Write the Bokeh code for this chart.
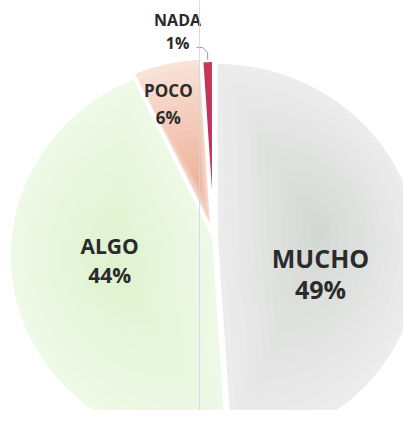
import math
from bokeh.plotting import figure
from bokeh.models import Range1d, Span
from bokeh.embed import file_html
from bokeh.resources import INLINE
from bokeh.core.properties import value

# ---- data ----
categories = ["NADA", "POCO", "ALGO", "MUCHO"]
percents = [1, 6, 44, 49]
pct_labels = ["1%", "6%", "44%", "49%"]

# ---- style ----
edge_colors = ["#c8365a", "#f9e2d7", "#eef9e7", "#ececec"]
center_colors = ["#c3305a", "#efb39c", "#e0f2d0", "#d4d8d4"]
explode = [0.012, 0.03, 0.0, 0.014]         # fraction of radius, along mid-angle
focus = [0.5, 0.25, 0.5, 0.5]               # gradient focus (fraction of radius)
label_r = [1.213, 0.781, 0.520, 0.550]      # label anchor, pie-disc polar coords
label_ang = [99.4, 107.8, 193.5, -19.9]
label_size = [16, 17, 21, 25]
label_gap = [23, 27, 29, 31]
text_color = "#2b2b2b"

# tilted (3-D) pie projection, screen pixels
X0, Y0 = 213, 236
A = 203
TOP = 174
K = 0.10
B = TOP * (1 + K)

W, H = 403, 410
PAGE_H = 426


def proj(u, v):
    w = 1 + K * v
    return X0 + A * u / w, PAGE_H - (Y0 - B * v / w)


def mix(c1, c2, t):
    a = [int(c1[i:i + 2], 16) for i in (1, 3, 5)]
    b = [int(c2[i:i + 2], 16) for i in (1, 3, 5)]
    return "#%02x%02x%02x" % tuple(round(a[j] + (b[j] - a[j]) * t) for j in range(3))


p = figure(width=W, height=H, output_backend="svg", toolbar_location=None,
           x_range=Range1d(0, W), y_range=Range1d(PAGE_H - H, PAGE_H),
           min_border=0, outline_line_color=None, background_fill_color="white")
p.axis.visible = False
p.grid.visible = False

# faint vertical artifact line seen in the source image
p.add_layout(Span(location=199, dimension="height", line_color="#c9dadd", line_width=1, line_alpha=0.8))

total = float(sum(percents))
start = 90.0
outlines = []
labels = []
for i, cat in enumerate(categories):
    span = percents[i] / total * 360.0
    a0, a1 = start, start + span
    mid = math.radians((a0 + a1) / 2)
    du, dv = explode[i] * math.cos(mid), explode[i] * math.sin(mid)
    n = max(4, int(span / 1.5))
    pts = [(du, dv)]
    for j in range(n + 1):
        a = math.radians(a0 + (a1 - a0) * j / n)
        pts.append((du + math.cos(a), dv + math.sin(a)))
    fu, fv = du + focus[i] * math.cos(mid), dv + focus[i] * math.sin(mid)
    steps = 14
    for s_i in range(steps):
        s = 1.0 - s_i / steps
        col = mix(edge_colors[i], center_colors[i], s_i / (steps - 1))
        xs, ys = [], []
        for (u, v) in pts:
            x, y = proj(fu + s * (u - fu), fv + s * (v - fv))
            xs.append(x)
            ys.append(y)
        p.patch(xs, ys, fill_color=col, line_color=None)
    xs, ys = zip(*[proj(u, v) for (u, v) in pts])
    outlines.append((list(xs), list(ys)))

    la = math.radians(label_ang[i])
    lx, ly = proj(label_r[i] * math.cos(la), label_r[i] * math.sin(la))
    lead = None
    if label_r[i] > 1:
        lead = proj(du + 1.0 * math.cos(mid), dv + 1.0 * math.sin(mid))
    labels.append((i, lx, ly, lead))
    start = a1

# white separators
for xs, ys in outlines:
    p.patch(xs, ys, fill_color=None, line_color="white", line_width=3, line_join="miter")

# labels on top
for i, lx, ly, lead in labels:
    g = label_gap[i] / 2.0
    for txt, yy in ((categories[i], ly + g), (pct_labels[i], ly - g)):
        p.text(x=[lx], y=[yy], text=[txt], text_font=value("Open Sans"), text_font_style="bold",
               text_font_size=f"{label_size[i]}px", text_color=text_color, text_align="center",
               text_baseline="middle")
    if lead is not None:
        ex, ey = lead
        x0, y0 = lx + 19, ly - g - 4
        p.line(x=[x0, x0 + 6, ex, ex], y=[y0, y0, y0 - 5, ey + 1],
               line_color="#9a9a9a", line_width=1)

open("out.html", "w").write(file_html(p, INLINE))
